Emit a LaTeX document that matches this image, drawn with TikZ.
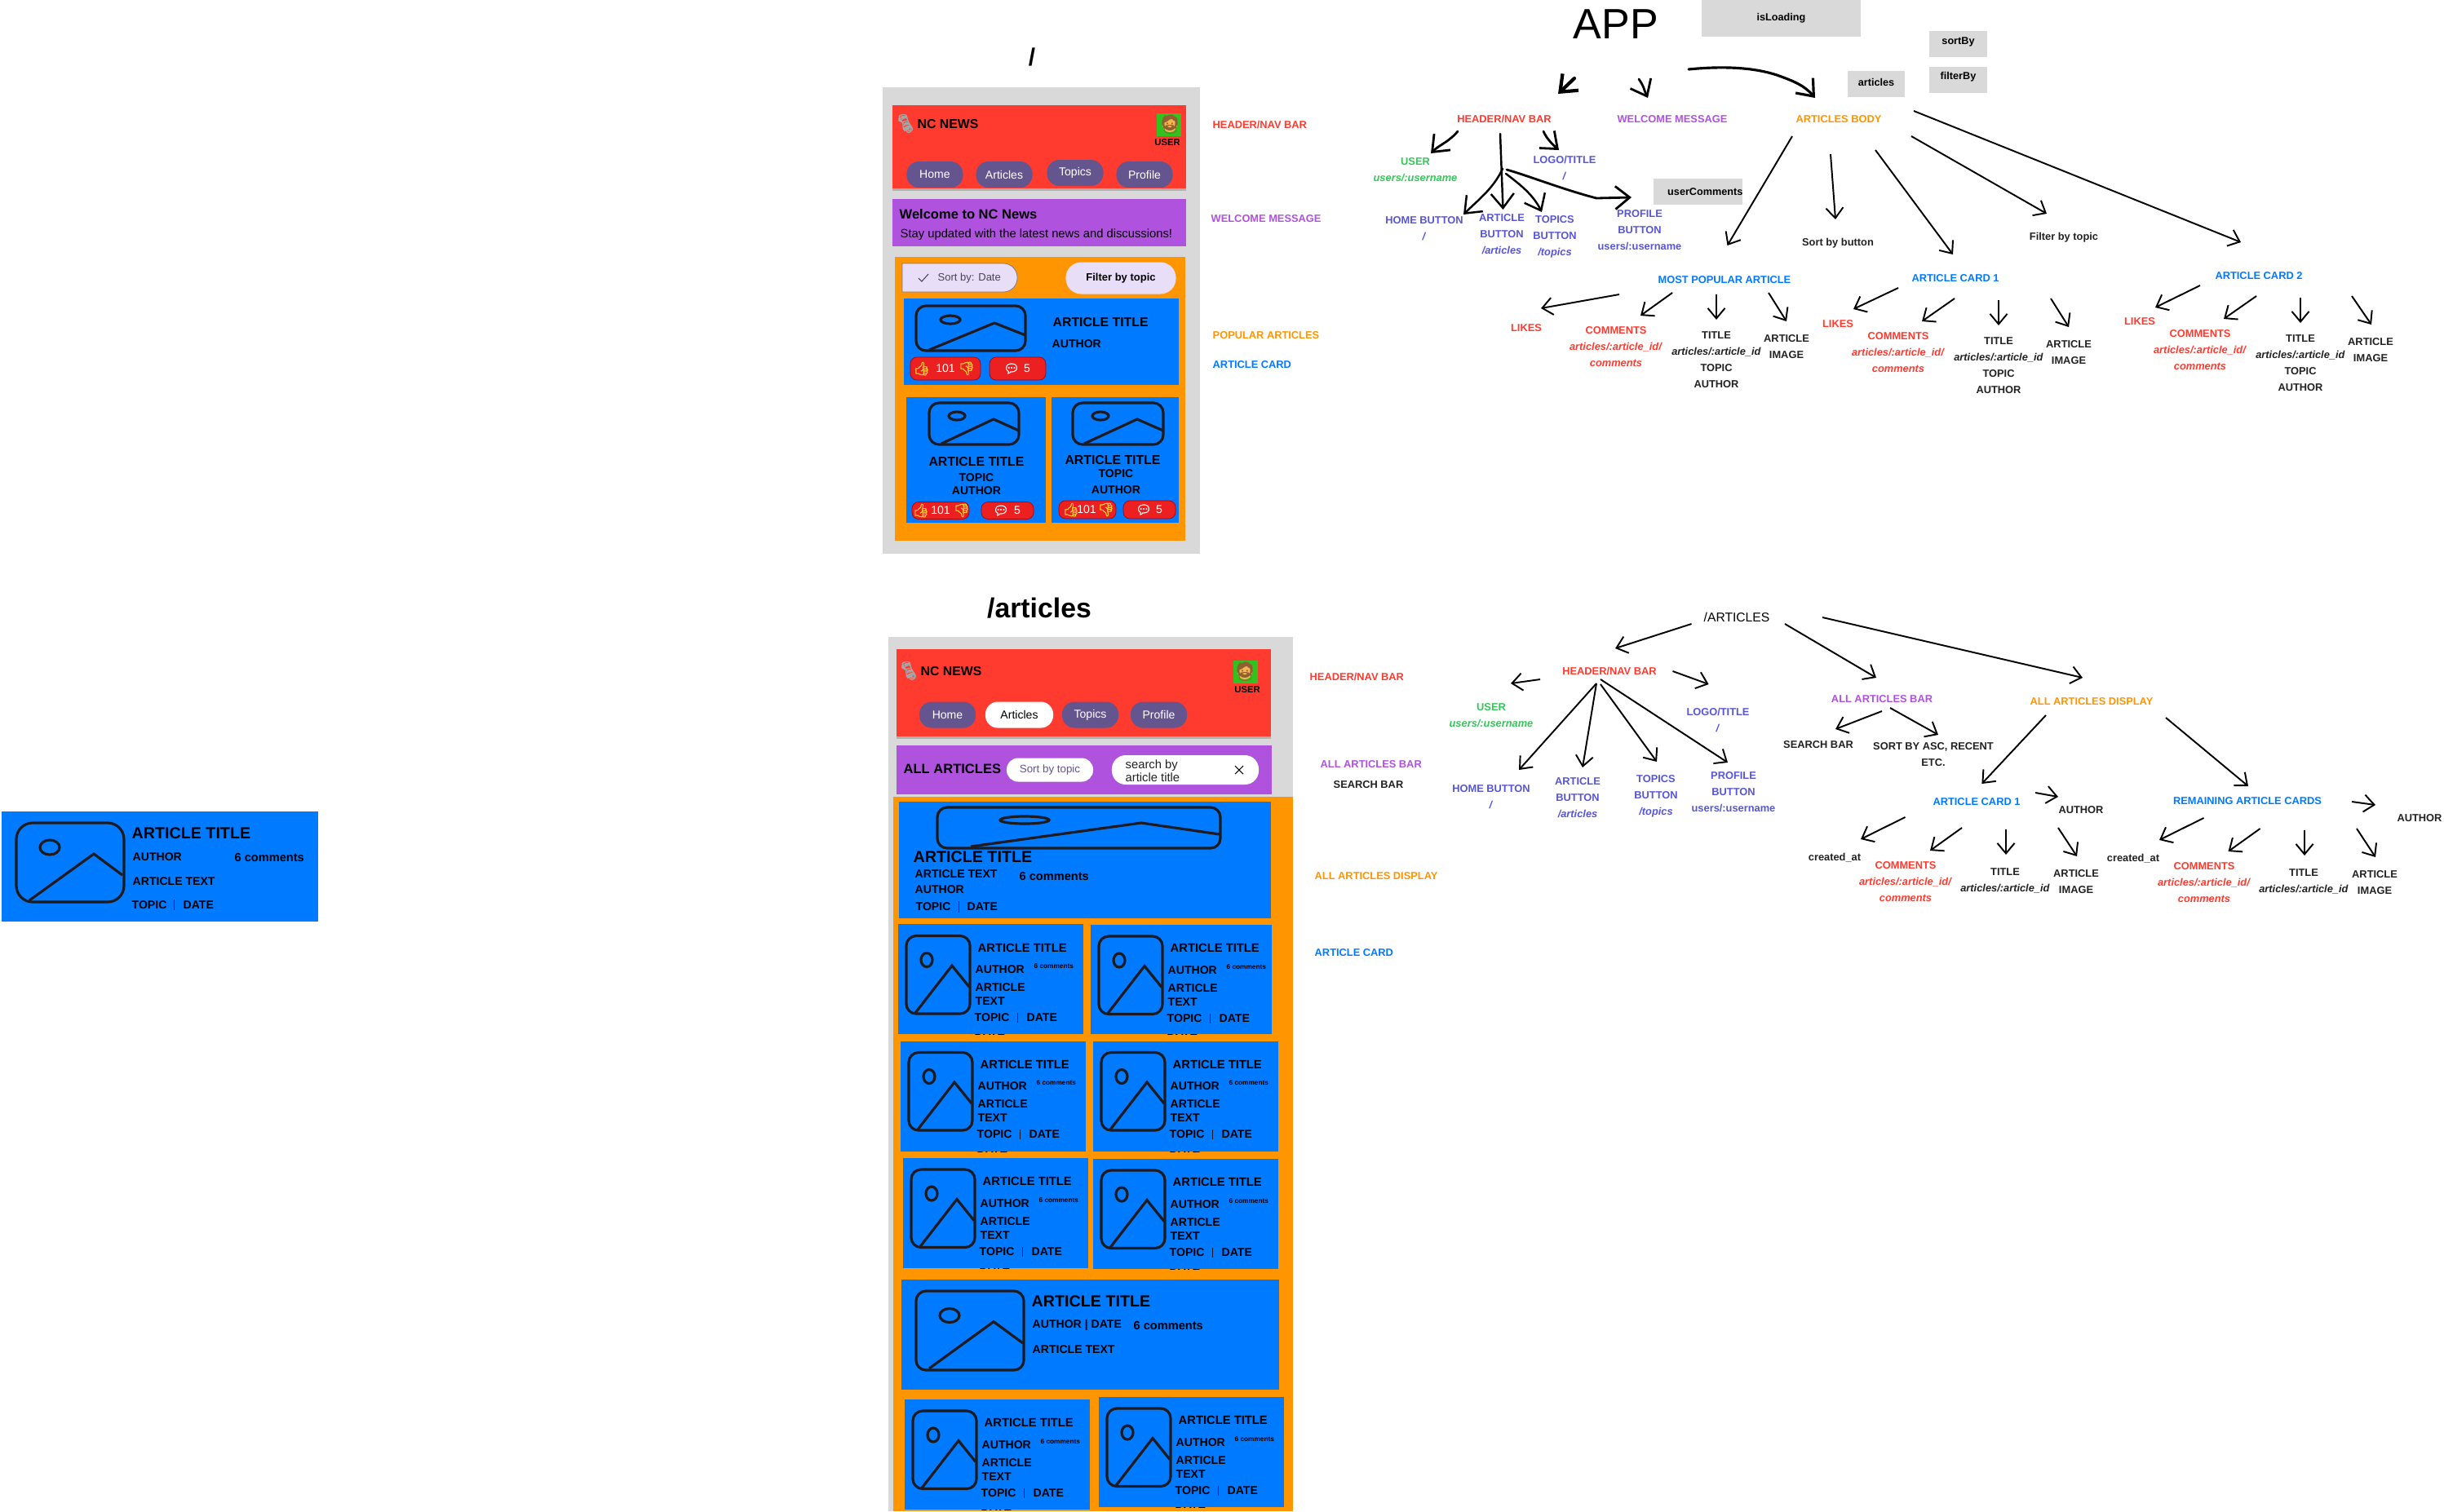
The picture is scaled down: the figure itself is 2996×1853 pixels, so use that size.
\documentclass[tikz,border=0pt]{standalone}
\usepackage{fontspec}
\setmainfont{Liberation Sans}
\newfontfamily\emojifont[FakeBold=2]{Noto Emoji}
\newfontfamily\facefont{Noto Emoji}
\usetikzlibrary{arrows.meta}
\definecolor{mred}{HTML}{FF3B30}
\definecolor{mpurple}{HTML}{AF52DE}
\definecolor{morange}{HTML}{FF9500}
\definecolor{mblue}{HTML}{007AFF}
\definecolor{mindigo}{HTML}{5856D6}
\definecolor{mgreen}{HTML}{34C759}
\definecolor{mgrey}{HTML}{D9D9D9}
\definecolor{navpurple}{HTML}{65558F}
\definecolor{chipfill}{HTML}{E8DEF8}
\definecolor{chipedge}{HTML}{79747E}
\definecolor{chiptext}{HTML}{49454F}
\definecolor{iconline}{HTML}{1D1B20}
\definecolor{pillred}{HTML}{EC2020}
\definecolor{avatar}{HTML}{32C11F}
\definecolor{darklabel}{HTML}{222222}
\definecolor{thumbgold}{HTML}{FFCC33}
\definecolor{skin}{HTML}{F5B550}
\tikzset{mock/.style = {font=\fontsize{#1}{#1}\selectfont\bfseries, inner sep=0pt, text=black}}
\tikzset{mockleft/.style = {mock=#1, anchor=west}}
\tikzset{plain/.style = {font=\fontsize{#1}{#1}\selectfont, inner sep=0pt}}
\tikzset{tree/.style = {font=\fontsize{3.65}{5.69}\selectfont\bfseries, align=center, inner sep=0pt, text=#1}}
\tikzset{sidelabel/.style = {tree=#1, anchor=west}}
\tikzset{greybox/.style = {fill=mgrey, inner sep=0pt, font=\fontsize{3.6}{4}\selectfont\bfseries}}
\tikzset{icon/.style = {draw=iconline, line width=0.9pt, rounded corners=0.12cm}}
\tikzset{iconpart/.style = {draw=iconline, line width=0.9pt}}
\tikzset{navpill/.style = {fill=navpurple, rounded corners=0.15cm, inner sep=0pt, text=white,
                           font=\fontsize{4}{5}\selectfont, minimum width=0.69cm, minimum height=0.32cm}}
\tikzset{redpill/.style = {fill=pillred, draw=red!70!black, line width=0.2pt, rounded corners=0.08cm, inner sep=0pt}}
\tikzset{emoji/.style = {font=\emojifont\fontsize{#1}{#1}\selectfont, inner sep=0pt}}
\tikzset{faceglyph/.style = {font=\facefont\fontsize{6.5}{6.5}\selectfont, inner sep=0pt, text=brown!75!black}}
\tikzset{thinarrow/.style = {line width=0.55pt, -{Straight Barb[length=3.6pt,width=6pt]}}}
\tikzset{handarrow/.style = {line width=#1, line cap=round, line join=round, -{Straight Barb[length=5pt,width=8pt]}}}
\newcommand{\linkto}[4]{\draw [thinarrow] ([shift={#2}]#1.center) -- ([shift={#4}]#3.center);}

\begin{document}
\begin{tikzpicture}[x=0.01cm, y=-0.01cm]
    \useasboundingbox (0, 0) rectangle (2996, 1853);
    \fill [white] (0, 0) rectangle (2996, 1853);

    % card on its own at the left
    \fill [mblue] (2, 995) rectangle (390, 1130);
    \draw [icon, rounded corners=0.2cm] (20, 1009) rectangle (152, 1106);
    \draw [iconpart] (61, 1039) ellipse (12 and 9);
    \draw [iconpart] (36, 1104) -- (115, 1047) -- (150, 1073);
    \node [mockleft=5.6] (loneTitle) at (161, 1022) {ARTICLE TITLE};
    \node [mockleft=4] (loneAuthor) at (162, 1051) {AUTHOR};
    \node [mockleft=4.15] (loneComments) at (287, 1051) {6 comments};
    \node [mockleft=4] (loneText) at (162, 1081) {ARTICLE TEXT};
    \node [mockleft=4] (loneTopic) at (161, 1110) {TOPIC};
    \draw [iconline, line width=0.2pt] (213, 1103) -- (213, 1116);
    \node [mockleft=4] (loneDate) at (224, 1110) {DATE};

    % home page
    \node [mock=8.5] (homeTitle) at (1265, 70) {/};
    \fill [mgrey] (1082, 107) rectangle (1471, 679);
    \fill [black!30] (1094, 231) rectangle (1454, 234);
    \fill [mred] (1094, 129) rectangle (1454, 231);
    \node [emoji=5.5, text=gray!70, rotate=-20] (paperA) at (1110, 151) {🗞};
    \node [mockleft=4.5] (brandA) at (1124, 152) {NC NEWS};
    \fill [avatar] (1418, 139) rectangle (1448, 167);
    \fill [skin] (1434, 153) circle (9);
    \node [faceglyph] (faceA) at (1434, 153) {🧔};
    \node [mock=3.2] (userTagA) at (1431, 175) {USER};
    \node [navpill] (navHomeA) at (1146, 214) {Home};
    \node [navpill] (navArticlesA) at (1231, 214) {Articles};
    \node [navpill] (navTopicsA) at (1318, 212) {Topics};
    \node [navpill] (navProfileA) at (1403, 214) {Profile};

    \fill [mpurple] (1094, 244) rectangle (1454, 302);
    \node [mockleft=4.7] (welcomeHead) at (1102, 263) {Welcome to NC News};
    \node [plain=4.2, anchor=west] (welcomeText) at (1103, 288) {Stay updated with the latest news and discussions!};

    \fill [morange] (1097, 315) rectangle (1453, 663);
    \filldraw [fill=chipfill, draw=chipedge, line width=0.2pt] (1106, 323)
      [rounded corners=0.17cm] -- (1247, 323) -- (1247, 358) [sharp corners] -- (1106, 358) -- cycle;
    \draw [chiptext, line width=0.3pt] (1126, 341) -- (1130, 345) -- (1138, 336);
    \node [plain=3.7, anchor=west, text=chiptext] (sortChip) at (1149, 341) {Sort by: Date};
    \node [fill=chipfill, rounded corners=0.19cm, minimum width=1.35cm, minimum height=0.39cm, inner sep=0pt,
           font=\fontsize{3.7}{4}\selectfont\bfseries] (filterChip) at (1374, 341) {Filter by topic};

    \fill [mblue] (1108, 366) rectangle (1445, 472);
    \draw [icon] (1123, 375) rectangle (1257, 430);
    \draw [iconpart] (1165, 392) ellipse (12 and 5);
    \draw [iconpart] (1139, 429) -- (1219, 396) -- (1257, 411);
    \node [mockleft=4.5] (popTitle) at (1290, 395) {ARTICLE TITLE};
    \node [mockleft=4] (popAuthor) at (1289, 422) {AUTHOR};

    \fill [mblue] (1111, 487) rectangle (1282, 641);
    \draw [icon] (1139, 494) rectangle (1249, 545);
    \draw [iconpart] (1173, 510) ellipse (10 and 5);
    \draw [iconpart] (1154, 544) -- (1218, 514) -- (1249, 528);
    \node [mock=4.5] (popTitleL) at (1197, 566) {ARTICLE TITLE};
    \node [mock=4] (popTopicL) at (1197, 586) {TOPIC};
    \node [mock=4] (popAuthorL) at (1197, 602) {AUTHOR};

    \fill [mblue] (1289, 487) rectangle (1445, 641);
    \draw [icon] (1315, 494) rectangle (1426, 545);
    \draw [iconpart] (1349, 510) ellipse (10 and 5);
    \draw [iconpart] (1329, 544) -- (1394, 514) -- (1426, 528);
    \node [mock=4.5] (popTitleR) at (1364, 564) {ARTICLE TITLE};
    \node [mock=4] (popTopicR) at (1368, 581) {TOPIC};
    \node [mock=4] (popAuthorR) at (1368, 601) {AUTHOR};

    \foreach \n/\y/\h/\lx/\lw/\tx/\vx/\dx/\cx/\cw/\bx/\fx in {
        a/452/28/1116/86/1130/1159/1185/1213/69/1240/1259,
        b/626/21/1118/70/1129/1153/1179/1203/64/1227/1247,
        c/625/22/1298/70/1313/1332/1356/1377/64/1402/1421} {
      \node [redpill, minimum width=\lw*0.01cm, minimum height=\h*0.01cm] (likes\n) at ({\lx+\lw/2}, \y) {};
      \node [redpill, minimum width=\cw*0.01cm, minimum height=\h*0.01cm] (talk\n) at ({\cx+\cw/2}, \y) {};
      \node [emoji=4.6, text=thumbgold] (up\n) at (\tx, \y) {👍};
      \node [plain=4, text=white] (count\n) at (\vx, \y) {101};
      \node [emoji=4.6, text=thumbgold] (down\n) at (\dx, \y) {👎};
      \node [emoji=4.4, text=white] (bubble\n) at (\bx, \y) {💬};
      \node [plain=4, text=white] (five\n) at (\fx, \y) {5};
    }

    \node [sidelabel=mred] (sideHdrA) at (1486, 153) {HEADER/NAV BAR};
    \node [sidelabel=mpurple] (sideWelA) at (1484, 268) {WELCOME MESSAGE};
    \node [sidelabel=morange] (sidePopA) at (1486, 411) {POPULAR ARTICLES};
    \node [sidelabel=mblue] (sideCardA) at (1486, 447) {ARTICLE CARD};

    % tree of the home page
    \node [plain=14.8] (app) at (1981, 30) {APP};
    \node [greybox, minimum width=1.95cm, minimum height=0.45cm, text depth=0.8pt] (isLoading) at (2183.5, 22.5) {isLoading};
    \node [greybox, minimum width=0.71cm, minimum height=0.32cm] (sortBy) at (2400.5, 54) {\raisebox{2pt}{sortBy}};
    \node [greybox, minimum width=0.71cm, minimum height=0.32cm] (filterBy) at (2400.5, 98) {\raisebox{3pt}{filterBy}};
    \node [greybox, minimum width=0.70cm, minimum height=0.32cm] (articlesBox) at (2300, 103) {\raisebox{1pt}{articles}};
    \node [greybox, minimum width=1.03cm, minimum height=0.32cm] (userComments) at (2081.5, 235) {\hspace{5pt}userComments};

    \node [tree=mred] (hdrA) at (1844, 146) {HEADER/NAV BAR};
    \node [tree=mpurple] (welA) at (2050, 146) {WELCOME MESSAGE};
    \node [tree=morange] (bodyA) at (2254, 146) {ARTICLES BODY};
    \node [tree=mgreen] (userA) at (1735, 208) {USER\\ \textit{users/:username}};
    \node [tree=mindigo] (logoA) at (1918, 206) {LOGO/TITLE\\ \textit{/}};
    \node [tree=mindigo] (homeA) at (1746, 280) {HOME BUTTON\\ \textit{/}};
    \node [tree=mindigo] (artA) at (1841, 287) {ARTICLE\\ BUTTON\\ \textit{/articles}};
    \node [tree=mindigo] (topA) at (1906, 290) {TOPICS\\ BUTTON\\ \textit{/topics}};
    \node [tree=mindigo] (profA) at (2010, 282) {PROFILE\\ BUTTON\\ users/:username};

    \node [tree=mblue] (mostA) at (2114, 343) {MOST POPULAR ARTICLE};
    \node [tree=darklabel] (sortA) at (2253, 298) {Sort by button};
    \node [tree=darklabel] (filterA) at (2530, 291) {Filter by topic};
    \node [tree=mblue] (cardOneA) at (2397, 341) {ARTICLE CARD 1};
    \node [tree=mblue] (cardTwoA) at (2769, 338) {ARTICLE CARD 2};

    \foreach \n/\lx/\ly/\cx/\cy/\tx/\ty/\ix/\iy in {
        M/1871/402/1981/425/2104/441/2190/425,
        O/2253/397/2327/432/2450/448/2536/432,
        T/2623/394/2697/429/2820/445/2906/429} {
      \node [tree=mred] (likes\n) at (\lx, \ly) {LIKES};
      \node [tree=mred] (com\n) at (\cx, \cy) {COMMENTS\\ \textit{articles/:article\_id/}\\ \textit{comments}};
      \node [tree=darklabel] (tit\n) at (\tx, \ty) {TITLE\\ \textit{articles/:article\_id}\\ TOPIC\\ AUTHOR};
      \node [tree=darklabel] (img\n) at (\ix, \iy) {ARTICLE\\ IMAGE};
    }

    \draw [handarrow=1.2pt] ([shift={(-51, 66)}]app.center) -- ([shift={(66, -31)}]hdrA.center);
    \draw [handarrow=0.8pt] ([shift={(28, 67)}]app.center) .. controls (2016, 107) and (2015, 110) .. ([shift={(-30, -26)}]welA.center);
    \draw [handarrow=0.9pt] ([shift={(89, 55)}]app.center) .. controls (2110, 81) and (2150, 82) .. (2181, 93)
      .. controls (2200, 100) and (2212, 105) .. ([shift={(-29, -26)}]bodyA.center);
    \draw [handarrow=0.8pt] ([shift={(-57, 15)}]hdrA.center) .. controls (1775, 175) and (1765, 177) .. ([shift={(19, -20)}]userA.center);
    \draw [handarrow=0.8pt] ([shift={(48, 15)}]hdrA.center) .. controls (1896, 170) and (1903, 177) .. ([shift={(-7, -22)}]logoA.center);
    \draw [handarrow=0.7pt] ([shift={(-5, 18)}]hdrA.center) -- ([shift={(1.5, -30)}]artA.center);
    \draw [handarrow=0.7pt] ([shift={(-2, 61)}]hdrA.center) .. controls (1830, 232) and (1812, 245) .. ([shift={(48, -17)}]homeA.center);
    \draw [handarrow=0.7pt] ([shift={(2, 67)}]hdrA.center) .. controls (1866, 228) and (1880, 240) .. ([shift={(-16, -30)}]topA.center);
    \draw [handarrow=0.8pt] ([shift={(3, 62)}]hdrA.center) .. controls (1875, 216) and (1915, 232) .. (1957, 243)
      -- ([shift={(-10, -40)}]profA.center);

    \linkto{bodyA}{(-57, 21)}{mostA}{(3.5, -42)}
    \linkto{bodyA}{(-10, 43)}{sortA}{(-3, -29)}
    \linkto{bodyA}{(45, 38)}{cardOneA}{(-3, -29)}
    \linkto{bodyA}{(89, 21)}{filterA}{(-21, -29)}
    \linkto{bodyA}{(92, -10)}{cardTwoA}{(-22, -41)}

    \linkto{mostA}{(-129, 18)}{likesM}{(18, -24)}
    \linkto{mostA}{(-64, 16)}{comM}{(30, -38)}
    \linkto{mostA}{(-10, 18)}{titM}{(0, -49)}
    \linkto{mostA}{(54, 16)}{imgM}{(0, -31)}
    \linkto{cardOneA}{(-70, 12)}{likesO}{(19, -18)}
    \linkto{cardOneA}{(-1, 25)}{comO}{(29, -38)}
    \linkto{cardOneA}{(53, 27)}{titO}{(0, -49)}
    \linkto{cardOneA}{(117, 25)}{imgO}{(0, -31)}
    \linkto{cardTwoA}{(-72, 12)}{likesT}{(19, -17)}
    \linkto{cardTwoA}{(-3, 25)}{comT}{(29, -38)}
    \linkto{cardTwoA}{(51, 27)}{titT}{(0, -49)}
    \linkto{cardTwoA}{(114, 25)}{imgT}{(1, -31)}

    % /articles page
    \node [mock=9.6] (pageTitle) at (1274, 746) {/articles};
    \fill [mgrey] (1089, 781) rectangle (1585, 1853);
    \fill [black!30] (1099, 903) rectangle (1558, 906);
    \fill [mred] (1099, 796) rectangle (1558, 903);
    \node [emoji=5.5, text=gray!70, rotate=-20] (paperB) at (1114, 822) {🗞};
    \node [mockleft=4.5] (brandB) at (1128, 823) {NC NEWS};
    \fill [avatar] (1512, 810) rectangle (1542, 838);
    \fill [skin] (1526, 824) circle (9);
    \node [faceglyph] (faceB) at (1526, 824) {🧔};
    \node [mock=3.2] (userTagB) at (1529, 846) {USER};
    \node [navpill] (navHomeB) at (1161.5, 876.5) {Home};
    \node [navpill, fill=white, text=black, minimum width=0.83cm] (navArticlesB) at (1249.5, 876.5) {Articles};
    \node [navpill] (navTopicsB) at (1336.5, 876.5) {Topics};
    \node [navpill] (navProfileB) at (1420.5, 876.5) {Profile};

    \fill [mpurple] (1099, 914) rectangle (1559, 974);
    \node [mockleft=4.7] (allHead) at (1107, 943) {ALL ARTICLES};
    \node [fill=white, rounded corners=0.14cm, minimum width=1.06cm, minimum height=0.29cm, inner sep=0pt,
           text=navpurple, font=\fontsize{3.8}{4}\selectfont] (sortTopic) at (1287, 944) {Sort by topic};
    \node [fill=white, rounded corners=0.17cm, minimum width=1.80cm, minimum height=0.36cm, inner sep=0pt] (searchPill) at (1453, 944) {};
    \node [font=\fontsize{4.2}{4.6}\selectfont, align=left, anchor=west, inner sep=0pt, text=darklabel] (searchHint) at (1379, 945) {search by\\ article title};
    \draw [black, line width=0.3pt] (1514, 939) -- (1524, 949) (1514, 949) -- (1524, 939);

    \fill [morange] (1095, 977) rectangle (1585, 1853);
    \fill [mblue] (1102, 983) rectangle (1558, 1126);
    \draw [icon] (1149, 990) rectangle (1496, 1040);
    \draw [iconpart] (1256, 1005.5) ellipse (30 and 4.5);
    \draw [iconpart] (1190, 1038) -- (1399, 1009) -- (1495, 1023);
    \node [mockleft=5.6] (wideTitle) at (1119, 1051) {ARTICLE TITLE};
    \node [mockleft=4] (wideText) at (1121, 1072) {ARTICLE TEXT};
    \node [mockleft=4.15] (wideComments) at (1249, 1074) {6 comments};
    \node [mockleft=4] (wideAuthor) at (1121, 1091) {AUTHOR};
    \node [mockleft=4] (wideTopic) at (1122, 1112) {TOPIC};
    \draw [iconline, line width=0.2pt] (1175, 1105) -- (1175, 1119);
    \node [mockleft=4] (wideDate) at (1185, 1112) {DATE};

    \foreach \n/\x/\y/\w/\t/\b in {1/1101/1133/227/0/134.5, 2/1337/1133.5/222/0.5/134, 3/1104/1276/227/1/135.5, 4/1340/1276/227/1/135.5,
                                   5/1107/1419.5/227/0.5/135.5, 6/1340/1420.5/227/0.5/135.5, 7/1109/1715.5/227/0.5/135.5, 8/1347/1712.5/227/0.5/135.5} {
      \begin{scope}[shift={(\x, \y)}]
        \node [mockleft=4] (cardHidden\n) at (93, \b-3) {DATE};
        \fill [mblue] (0, \t) rectangle (\w, \b);
        \draw [icon] (10, 14.5) rectangle (88, 110);
        \draw [iconpart] (35, 44) ellipse (7 and 8.5);
        \draw [iconpart] (21, 109) -- (66, 51) -- (87, 77);
        \node [mockleft=4.2] (cardTitle\n) at (97, 29) {ARTICLE TITLE};
        \node [mockleft=4] (cardAuthor\n) at (94, 56) {AUTHOR};
        \node [mockleft=2.35] (cardComments\n) at (166, 52) {6 comments};
        \node [mockleft=4] (cardArticle\n) at (94, 78) {ARTICLE};
        \node [mockleft=4] (cardText\n) at (94, 95) {TEXT};
        \node [mockleft=4] (cardTopic\n) at (93, 115) {TOPIC};
        \draw [iconline, line width=0.2pt] (146, 109) -- (146, 121);
        \node [mockleft=4] (cardDate\n) at (157, 115) {DATE};
      \end{scope}
    }

    \fill [mblue] (1105, 1569) rectangle (1568, 1704);
    \draw [icon] (1123, 1583) rectangle (1255, 1680);
    \draw [iconpart] (1164, 1613) ellipse (12 and 8.5);
    \draw [iconpart] (1139, 1678) -- (1218, 1620.6) -- (1254, 1647);
    \node [mockleft=5.6] (broadTitle) at (1264, 1596) {ARTICLE TITLE};
    \node [mockleft=4] (broadAuthor) at (1265, 1625) {AUTHOR | DATE};
    \node [mockleft=4.15] (broadComments) at (1389, 1625) {6 comments};
    \node [mockleft=4] (broadText) at (1265, 1655) {ARTICLE TEXT};

    \node [sidelabel=mred] (sideHdrB) at (1605, 830) {HEADER/NAV BAR};
    \node [sidelabel=mpurple] (sideBarB) at (1618, 937) {ALL ARTICLES BAR};
    \node [sidelabel=darklabel] (sideSearchB) at (1634, 962) {SEARCH BAR};
    \node [sidelabel=morange] (sideDispB) at (1611, 1074) {ALL ARTICLES DISPLAY};
    \node [sidelabel=mblue] (sideCardB) at (1611, 1168) {ARTICLE CARD};

    % tree of the /articles page
    \node [plain=4.45] (rootB) at (2129, 757) {/ARTICLES};
    \node [tree=mred] (hdrB) at (1973, 823) {HEADER/NAV BAR};
    \node [tree=mpurple] (barB) at (2307, 857) {ALL ARTICLES BAR};
    \node [tree=morange] (dispB) at (2564, 860) {ALL ARTICLES DISPLAY};
    \node [tree=mgreen] (userB) at (1828, 877) {USER\\ \textit{users/:username}};
    \node [tree=mindigo] (logoB) at (2106, 883) {LOGO/TITLE\\ \textit{/}};
    \node [tree=mindigo] (homeB) at (1828, 977) {HOME BUTTON\\ \textit{/}};
    \node [tree=mindigo] (artB) at (1934, 978) {ARTICLE\\ BUTTON\\ \textit{/articles}};
    \node [tree=mindigo] (topB) at (2030, 976) {TOPICS\\ BUTTON\\ \textit{/topics}};
    \node [tree=mindigo] (profB) at (2125, 971) {PROFILE\\ BUTTON\\ users/:username};
    \node [tree=darklabel] (searchB) at (2229, 913) {SEARCH BAR};
    \node [tree=darklabel] (sortB) at (2370, 925) {SORT BY ASC, RECENT\\ ETC.};
    \node [tree=mblue] (cardOneB) at (2423, 983) {ARTICLE CARD 1};
    \node [tree=mblue] (remB) at (2755, 982) {REMAINING ARTICLE CARDS};
    \node [tree=darklabel] (authOne) at (2551, 993) {AUTHOR};
    \node [tree=darklabel] (authRem) at (2966, 1003) {AUTHOR};

    \foreach \n/\lx/\ly/\cx/\cy/\tx/\ty/\ix/\iy in {
        One/2249/1052/2336/1081/2458/1080/2545/1081,
        Rem/2615/1053/2702/1082/2824/1081/2911/1082} {
      \node [tree=darklabel] (created\n) at (\lx, \ly) {created\_at};
      \node [tree=mred] (com\n) at (\cx, \cy) {COMMENTS\\ \textit{articles/:article\_id/}\\ \textit{comments}};
      \node [tree=darklabel] (tit\n) at (\tx, \ty) {TITLE\\ \textit{articles/:article\_id}};
      \node [tree=darklabel] (img\n) at (\ix, \iy) {ARTICLE\\ IMAGE};
    }

    \linkto{rootB}{(-55.5, 8)}{hdrB}{(7, -28)}
    \linkto{rootB}{(59, 8)}{barB}{(-7, -26)}
    \linkto{rootB}{(105, 0)}{dispB}{(-11, -29)}
    \linkto{hdrB}{(-85, 10)}{userB}{(24, -39)}
    \linkto{hdrB}{(77.5, 0)}{logoB}{(-11.4, -44)}
    \linkto{hdrB}{(-16, 15)}{homeB}{(34, -33)}
    \linkto{hdrB}{(-16, 15)}{artB}{(6, -37)}
    \linkto{hdrB}{(-11, 16)}{topB}{(1, -42)}
    \linkto{hdrB}{(-11, 10)}{profB}{(-7, -36)}
    \linkto{barB}{(0, 15)}{searchB}{(21, -19)}
    \linkto{barB}{(10, 11)}{sortB}{(6, -24)}
    \linkto{dispB}{(-56, 17)}{cardOneB}{(6.4, -22)}
    \linkto{dispB}{(91, 20)}{remB}{(1, -18)}
    \linkto{cardOneB}{(72, -11)}{authOne}{(-28, -16)}
    \linkto{cardOneB}{(-87.5, 19)}{createdOne}{(32, -23)}
    \linkto{cardOneB}{(-18, 32)}{comOne}{(30, -38)}
    \linkto{cardOneB}{(36, 34)}{titOne}{(1, -32)}
    \linkto{cardOneB}{(100, 32)}{imgOne}{(1, -31)}
    \linkto{remB}{(128, 1)}{authRem}{(-54, -16)}
    \linkto{remB}{(-53.5, 21)}{createdRem}{(32, -23)}
    \linkto{remB}{(15.6, 34)}{comRem}{(29.5, -38)}
    \linkto{remB}{(70, 36)}{titRem}{(1, -32)}
    \linkto{remB}{(134, 34)}{imgRem}{(1, -31)}
\end{tikzpicture}
\end{document}
